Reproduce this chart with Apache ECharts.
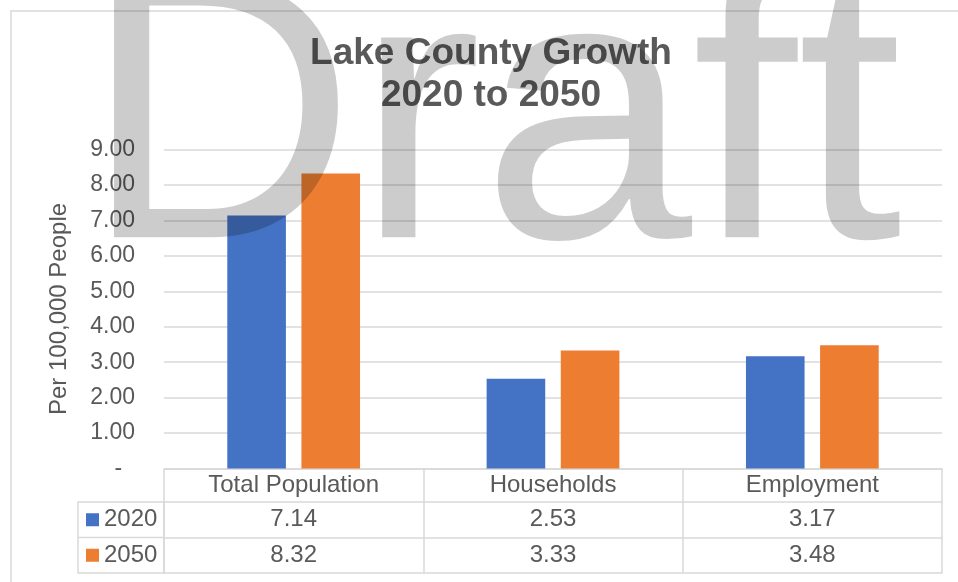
<!DOCTYPE html>
<html>
<head>
<meta charset="utf-8">
<style>html,body{margin:0;padding:0;background:#fff}#c{width:958px;height:582px}</style>
<script src="https://cdn.jsdelivr.net/npm/echarts@6/dist/echarts.min.js"></script>
</head>
<body>
<div id="c"></div>
<script>
// ---- data ----
var categories = ['Total Population', 'Households', 'Employment'];
var seriesNames = ['2020', '2050'];
var values2020 = [7.14, 2.53, 3.17];
var values2050 = [8.32, 3.33, 3.48];
var yTicks = [0, 1, 2, 3, 4, 5, 6, 7, 8, 9];
var titleText = 'Lake County Growth\n2020 to 2050';
var yName = 'Per 100,000 People';
var watermark = 'Draft';

// ---- layout ----
var FONT = '"Liberation Sans", Arial, sans-serif';
var TXT = '#595959';
var LINE = '#d9d9d9';
var GRID_L = 164, GRID_R = 16, GRID_T = 149.5, AXIS_Y = 468.5;
var HEAD_H = 33.5, ROW_H = 35.5;
var LEG_L = 78;

var chart = echarts.init(document.getElementById('c'), null, {renderer: 'canvas'});

function fmt(v) { return v.toFixed(2); }

var extraAxes = [HEAD_H, HEAD_H + ROW_H, HEAD_H + 2 * ROW_H].map(function (off) {
  return {
    type: 'category', data: categories, position: 'bottom', offset: off, gridIndex: 0,
    axisLine: {show: true, lineStyle: {color: LINE, width: 1.5}},
    axisTick: {show: false}, axisLabel: {show: false}, splitLine: {show: false}
  };
});

var option = {
  backgroundColor: '#fff',
  animation: false,
  textStyle: {fontFamily: FONT},
  title: {
    text: titleText,
    left: 491, top: 33, padding: 0,
    textAlign: 'center',
    textStyle: {fontFamily: FONT, fontSize: 37, fontWeight: 'bold', color: TXT, lineHeight: 42}
  },
  legend: {
    data: seriesNames,
    orient: 'vertical',
    left: 86, top: AXIS_Y + HEAD_H, padding: 0, itemGap: 0,
    itemWidth: 13, itemHeight: 13, icon: 'rect',
    textStyle: {fontFamily: FONT, fontSize: 24, color: TXT, lineHeight: ROW_H}
  },
  grid: {left: GRID_L, right: GRID_R, top: GRID_T, bottom: 582 - AXIS_Y, containLabel: false},
  xAxis: [{
    type: 'category', data: categories, position: 'bottom', boundaryGap: true,
    axisLine: {show: true, lineStyle: {color: LINE, width: 1.5}},
    axisTick: {show: true, interval: 0, alignWithLabel: false, length: HEAD_H + 2 * ROW_H, lineStyle: {color: LINE, width: 1.5}},
    axisLabel: {
      interval: 0, margin: 0, color: TXT, fontFamily: FONT, fontSize: 24,
      formatter: function (v, i) {
        return '{c|' + categories[i] + '}\n{v|' + fmt(values2020[i]) + '}\n{v|' + fmt(values2050[i]) + '}';
      },
      rich: {
        c: {fontFamily: FONT, fontSize: 24, color: TXT, lineHeight: HEAD_H},
        v: {fontFamily: FONT, fontSize: 24, color: TXT, lineHeight: ROW_H}
      }
    },
    splitLine: {show: false}
  }].concat(extraAxes),
  yAxis: {
    type: 'value', min: yTicks[0], max: yTicks[yTicks.length - 1], interval: 1,
    name: yName, nameLocation: 'middle', nameGap: 93, nameRotate: 90,
    nameTextStyle: {fontFamily: FONT, fontSize: 24, color: TXT},
    axisLine: {show: false}, axisTick: {show: false},
    axisLabel: {
      margin: 29, color: TXT, fontFamily: FONT, fontSize: 23,
      formatter: function (v) { return v === 0 ? '-  ' : v.toFixed(2); }
    },
    splitLine: {show: true, lineStyle: {color: LINE, width: 1.5}}
  },
  series: [
    {name: seriesNames[0], type: 'bar', data: values2020, barWidth: '22.6%', barGap: '26.5%',
     itemStyle: {color: '#4472C4'}},
    {name: seriesNames[1], type: 'bar', data: values2050, barWidth: '22.6%', barGap: '26.5%',
     itemStyle: {color: '#ED7D31'}}
  ],
  graphic: [
    {type: 'rect', silent: true, z: -10, shape: {x: 11, y: 11, width: 1200, height: 1200},
     style: {fill: 'none', stroke: LINE, lineWidth: 1.5}},
    {type: 'rect', silent: true, z: 5, shape: {x: LEG_L, y: AXIS_Y + HEAD_H, width: GRID_L - LEG_L, height: 2 * ROW_H},
     style: {fill: 'none', stroke: LINE, lineWidth: 1.5}},
    {type: 'line', silent: true, z: 5, shape: {x1: LEG_L, y1: AXIS_Y + HEAD_H + ROW_H, x2: GRID_L, y2: AXIS_Y + HEAD_H + ROW_H},
     style: {stroke: LINE, lineWidth: 1.5}},
    {type: 'text', silent: true, z: 100, x: 83, y: 133,
     style: {text: watermark, font: 'normal 378px ' + FONT, fill: 'rgba(0,0,0,0.2)', align: 'left', verticalAlign: 'middle'}}
  ]
};
chart.setOption(option);
</script>
</body>
</html>
